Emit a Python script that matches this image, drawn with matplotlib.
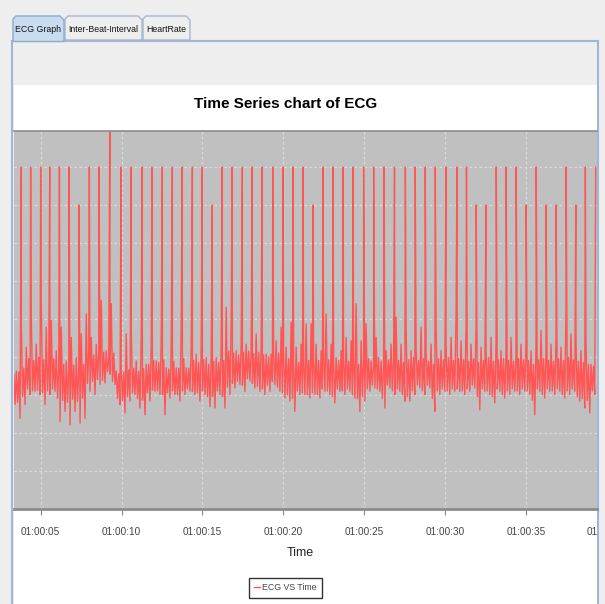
import matplotlib
matplotlib.use('Agg')
import matplotlib.pyplot as plt
from matplotlib.patches import Rectangle, Polygon
from matplotlib.transforms import Bbox, TransformedBbox, offset_copy
import numpy as np

# ---------------- data ----------------
tab_names = ["ECG Graph", "Inter-Beat-Interval", "HeartRate"]
chart_title = "Time Series chart of ECG"
x_label = "Time"
series_name = "ECG VS Time"

tick_secs = [5, 10, 15, 20, 25, 30, 35]
tick_labels = ["01:00:05", "01:00:10", "01:00:15", "01:00:20",
               "01:00:25", "01:00:30", "01:00:35"]
clipped_tick_sec = 40
clipped_tick_label = "01:00:40"

# R-peak times (seconds past 01:00:00) and peak amplitudes
spike_t = [3.80, 4.38, 5.00, 5.56, 6.16, 6.76, 7.38, 8.01, 8.61, 9.28,
           9.97, 10.60, 11.27, 11.88, 12.52, 13.14, 13.75, 14.38, 14.99, 15.61,
           16.22, 16.84, 17.47, 18.08, 18.69, 19.35, 19.99, 20.61, 21.23, 21.84,
           22.46, 23.08, 23.70, 24.32, 24.97, 25.59, 26.24, 26.88, 27.55, 28.16,
           28.78, 29.40, 30.06, 30.74, 31.33, 31.93, 32.53, 33.17, 33.78, 34.40,
           35.02, 35.64, 36.25, 36.87, 37.49, 38.09, 38.68, 39.32]
spike_v = [9.0, 9.0, 9.0, 9.0, 9.0, 9.0, 8.0, 9.0, 9.0, 10.6,
           9.0, 9.0, 9.0, 9.0, 9.0, 9.0, 9.0, 9.0, 9.0, 8.0,
           9.0, 9.0, 9.0, 9.0, 9.0, 9.0, 9.0, 9.0, 9.0, 8.0,
           9.0, 9.0, 9.0, 9.0, 9.0, 9.0, 9.0, 9.0, 9.0, 9.0,
           9.0, 9.0, 9.0, 9.0, 9.0, 8.0, 8.0, 9.0, 9.0, 9.0,
           8.0, 9.0, 8.0, 8.0, 9.0, 8.0, 9.0, 9.0]

# signal between beats, per ~0.31 s window: highest, body top, body bottom, lowest
env_start = 3.30
env_step = 0.309
env_hi = [4.42, 3.62, 4.91, 4.25, 5.04, 4.33, 5.44, 4.78, 4.96, 4.16,
          4.78, 3.89, 4.51, 3.98, 4.60, 5.13, 4.51, 4.33, 5.49, 4.16,
          5.40, 3.62, 3.71, 4.60, 4.78, 3.89, 4.51, 3.80, 4.33, 3.89,
          4.42, 3.71, 4.33, 3.71, 4.78, 3.71, 4.25, 4.07, 4.25, 3.98,
          4.07, 3.98, 4.25, 5.31, 4.96, 4.16, 4.33, 4.33, 4.16, 4.60,
          4.33, 4.07, 4.07, 4.42, 4.78, 4.25, 4.91, 4.25, 4.33, 4.87,
          4.87, 4.33, 4.16, 5.13, 4.33, 3.98, 4.16, 4.51, 4.42, 5.40,
          4.42, 4.87, 3.89, 4.51, 3.89, 4.16, 4.33, 5.04, 4.33, 4.78,
          4.16, 4.25, 4.78, 4.16, 4.33, 4.87, 4.16, 4.33, 4.51, 5.13,
          4.42, 4.78, 4.33, 4.78, 4.25, 4.16, 4.51, 4.33, 4.16, 4.16,
          4.51, 4.07, 4.33, 4.42, 4.16, 4.33, 4.69, 4.16, 4.33, 4.51,
          4.25, 5.22, 4.60, 4.42, 4.16, 4.33, 3.80]
body_hi = [3.55, 3.60, 3.70, 3.95, 3.90, 3.98, 3.92, 3.85, 3.95, 3.75,
           3.80, 3.70, 3.78, 3.72, 3.80, 4.10, 4.05, 4.15, 4.12, 4.00,
           4.10, 3.55, 3.60, 3.65, 3.70, 3.62, 3.68, 3.80, 3.90, 3.85,
           3.92, 3.68, 3.88, 3.70, 3.95, 3.70, 3.90, 3.85, 3.92, 3.80,
           3.88, 3.85, 3.90, 4.15, 4.10, 4.05, 4.12, 4.15, 4.08, 4.12,
           4.05, 4.00, 4.05, 4.10, 4.02, 3.95, 3.80, 3.85, 3.82, 3.90,
           3.95, 3.90, 3.98, 3.92, 3.85, 3.90, 3.95, 3.88, 3.92, 3.80,
           3.90, 3.95, 3.85, 3.98, 3.80, 3.92, 3.95, 3.90, 3.85, 3.92,
           3.98, 3.90, 3.95, 3.88, 3.80, 3.95, 3.92, 3.98, 3.90, 3.95,
           3.92, 3.88, 3.95, 3.85, 3.90, 3.98, 3.88, 3.92, 3.95, 3.90,
           3.88, 3.95, 3.92, 3.90, 3.80, 3.92, 3.95, 3.90, 3.88, 3.95,
           3.90, 3.98, 3.92, 3.88, 3.85, 3.80, 3.75]
body_lo = [2.90, 2.80, 2.95, 3.15, 3.10, 3.12, 3.05, 3.10, 3.15, 2.90,
           2.85, 2.80, 2.88, 2.82, 2.90, 3.30, 3.35, 3.40, 3.38, 3.60,
           3.35, 2.90, 2.85, 2.95, 3.05, 2.90, 2.85, 3.05, 3.12, 3.10,
           3.00, 3.05, 3.10, 3.00, 3.10, 3.15, 3.08, 3.05, 3.10, 2.95,
           2.95, 3.10, 2.95, 3.20, 3.30, 3.35, 3.25, 3.42, 3.30, 3.22,
           3.15, 3.25, 3.35, 3.20, 3.05, 3.00, 2.90, 3.10, 3.05, 3.00,
           3.05, 3.00, 3.15, 3.10, 2.95, 3.15, 3.10, 3.15, 3.00, 2.90,
           2.95, 3.15, 3.25, 3.15, 2.90, 3.25, 3.10, 3.15, 3.00, 2.95,
           3.10, 3.25, 3.10, 3.25, 2.90, 3.10, 3.15, 3.10, 3.15, 3.15,
           3.10, 3.15, 3.25, 2.95, 3.15, 3.10, 2.95, 3.15, 3.00, 3.10,
           3.15, 3.10, 3.15, 3.10, 2.85, 3.15, 3.00, 3.15, 3.10, 3.15,
           3.00, 3.10, 3.15, 2.95, 2.90, 2.85, 3.10]
env_lo = [2.74, 2.38, 2.74, 3.00, 3.09, 3.00, 2.74, 3.00, 3.09, 2.29,
          2.56, 2.20, 2.56, 2.25, 2.38, 3.09, 3.00, 3.27, 3.31, 3.54,
          3.27, 2.74, 2.52, 2.83, 3.00, 2.65, 2.47, 2.83, 3.09, 3.00,
          2.47, 2.91, 3.00, 2.83, 3.00, 3.09, 3.00, 2.83, 3.00, 2.69,
          2.65, 3.00, 2.65, 3.00, 3.18, 3.27, 3.09, 3.36, 3.18, 3.09,
          3.00, 3.09, 3.27, 3.09, 2.91, 2.83, 2.56, 3.00, 3.00, 2.91,
          3.00, 2.91, 3.09, 3.00, 2.78, 3.09, 3.00, 3.09, 2.91, 2.56,
          2.83, 3.09, 3.18, 3.09, 2.65, 3.18, 3.00, 3.09, 2.83, 2.83,
          3.00, 3.18, 3.00, 3.18, 2.56, 3.00, 3.09, 3.00, 3.09, 3.09,
          3.00, 3.09, 3.18, 2.60, 3.09, 3.00, 2.78, 3.09, 2.91, 3.00,
          3.09, 3.00, 3.09, 3.00, 2.47, 3.09, 2.91, 3.09, 3.00, 3.09,
          2.91, 3.00, 3.09, 2.83, 2.65, 2.52, 3.00]

# ---------------- build the series ----------------
env_t = env_start + env_step * np.arange(len(env_hi))
sub = env_step / 4.0
pts_t = (list(env_t - 1.5 * sub) + list(env_t - 0.5 * sub) +
         list(env_t + 0.5 * sub) + list(env_t + 1.5 * sub) + list(spike_t))
pts_v = list(env_hi) + list(body_lo) + list(body_hi) + list(env_lo) + list(spike_v)
order = np.argsort(pts_t, kind="stable")
ecg_t = np.asarray(pts_t)[order]
ecg_v = np.asarray(pts_v)[order]

# ---------------- figure ----------------
W, H = 605, 604
fig = plt.figure(figsize=(W / 100, H / 100), dpi=100)
fig.patch.set_facecolor('#eeeeee')
FONT = ['Liberation Sans', 'DejaVu Sans']
plt.rcParams['font.family'] = FONT


def fx(x):
    return x / W


def fy(y):
    return 1 - y / H


def rect(x0, y0, x1, y1, fc, ec='none', lw=0.0, z=0):
    fig.add_artist(Rectangle((fx(x0), fy(y1)), fx(x1) - fx(x0), fy(y0) - fy(y1),
                             transform=fig.transFigure, facecolor=fc,
                             edgecolor=ec, linewidth=lw, zorder=z))


def poly(pts, fc, ec, lw=1.0, z=1):
    fig.add_artist(Polygon([(fx(a), fy(b)) for a, b in pts], closed=True,
                           transform=fig.transFigure, facecolor=fc,
                           edgecolor=ec, linewidth=lw, zorder=z))


# panel
rect(12, 41, 598, 606, '#eeeeee', ec='#9fb6d6', lw=1.5, z=-2)
rect(13.5, 85, 596.5, 606, '#ffffff', z=-1)

# tabs
tab_x = [(13, 64), (65, 142), (143, 190)]
for i, ((a, b), name) in enumerate(zip(tab_x, tab_names)):
    if i == 0:
        poly([(a, 41.5), (a, 19), (a + 3, 16), (b - 4, 16), (b, 20), (b, 41.5)],
             '#c9dcf0', '#8fa9cb', lw=1.0, z=1)
    else:
        poly([(a, 40), (a, 19), (a + 3, 16), (b - 4, 16), (b, 20), (b, 40)],
             '#eeeeee', '#a6b6cc', lw=1.0, z=0.5)
    fig.text(fx((a + b) / 2), fy(29), name, ha='center', va='center',
             fontsize=6.3, color='#111111', zorder=3)

# title
fig.text(fx(285.5), fy(103.5), chart_title, ha='center', va='center',
         fontsize=11, fontweight='bold', color='#000000')

# plot area
ax = fig.add_axes([fx(13.5), fy(508.5), fx(597) - fx(13.5), (508.5 - 131) / H])
ax.set_zorder(2)
ax.set_facecolor('#c0c0c0')
ax.plot(ecg_t, ecg_v, color='#ff5555', linewidth=1.0, label=series_name)
ax.set_xlim(3.32, 39.40)
ax.set_ylim(0.0, 9.95)
ax.set_yticks(range(1, 10))
ax.set_xticks(tick_secs)
ax.set_xticklabels(tick_labels, fontsize=7.2, color='#444444')
ax.tick_params(axis='y', left=False, labelleft=False)
ax.tick_params(axis='x', length=4, width=0.8, color='#888888', pad=9)
ax.grid(True, color='#dcdcdc', linestyle=(0, (2, 2)), linewidth=0.9)
ax.set_axisbelow(True)
for s in ['left', 'right']:
    ax.spines[s].set_visible(False)
ax.spines['top'].set_color('#8c8c8c')
ax.spines['top'].set_linewidth(1.2)
ax.spines['bottom'].set_color('#8c8c8c')
ax.spines['bottom'].set_linewidth(2.0)
ax.set_xlabel(x_label, fontsize=9.0, color='#222222', labelpad=8.5)
ax.xaxis.set_label_coords(fx(300) / 1.0, 0, transform=fig.transFigure)
ax.xaxis.label.set_va('center')
ax.xaxis.label.set_position((fx(300.5), fy(553)))

# tick label partially hidden by the panel edge
lab_tr = offset_copy(ax.get_xaxis_transform(), fig=fig, y=-13, units='points')
lab = ax.text(clipped_tick_sec, 0, clipped_tick_label, ha='center', va='top',
              transform=lab_tr, fontsize=7.2, color='#444444', clip_on=True)
lab.set_clip_box(TransformedBbox(Bbox([[0, 0], [596.5 / W, 1]]), fig.transFigure))

leg = ax.legend(loc='center', bbox_to_anchor=(fx(285.5), fy(588)),
                bbox_transform=fig.transFigure, frameon=True, fancybox=False,
                edgecolor='#333333', framealpha=1.0, handlelength=0.7,
                handletextpad=0.2, borderpad=0.6, borderaxespad=0,
                prop={'size': 6.3})
leg.get_frame().set_linewidth(1.0)
for t in leg.get_texts():
    t.set_color('#444444')

fig.savefig('out.png', dpi=100, facecolor=fig.get_facecolor())
